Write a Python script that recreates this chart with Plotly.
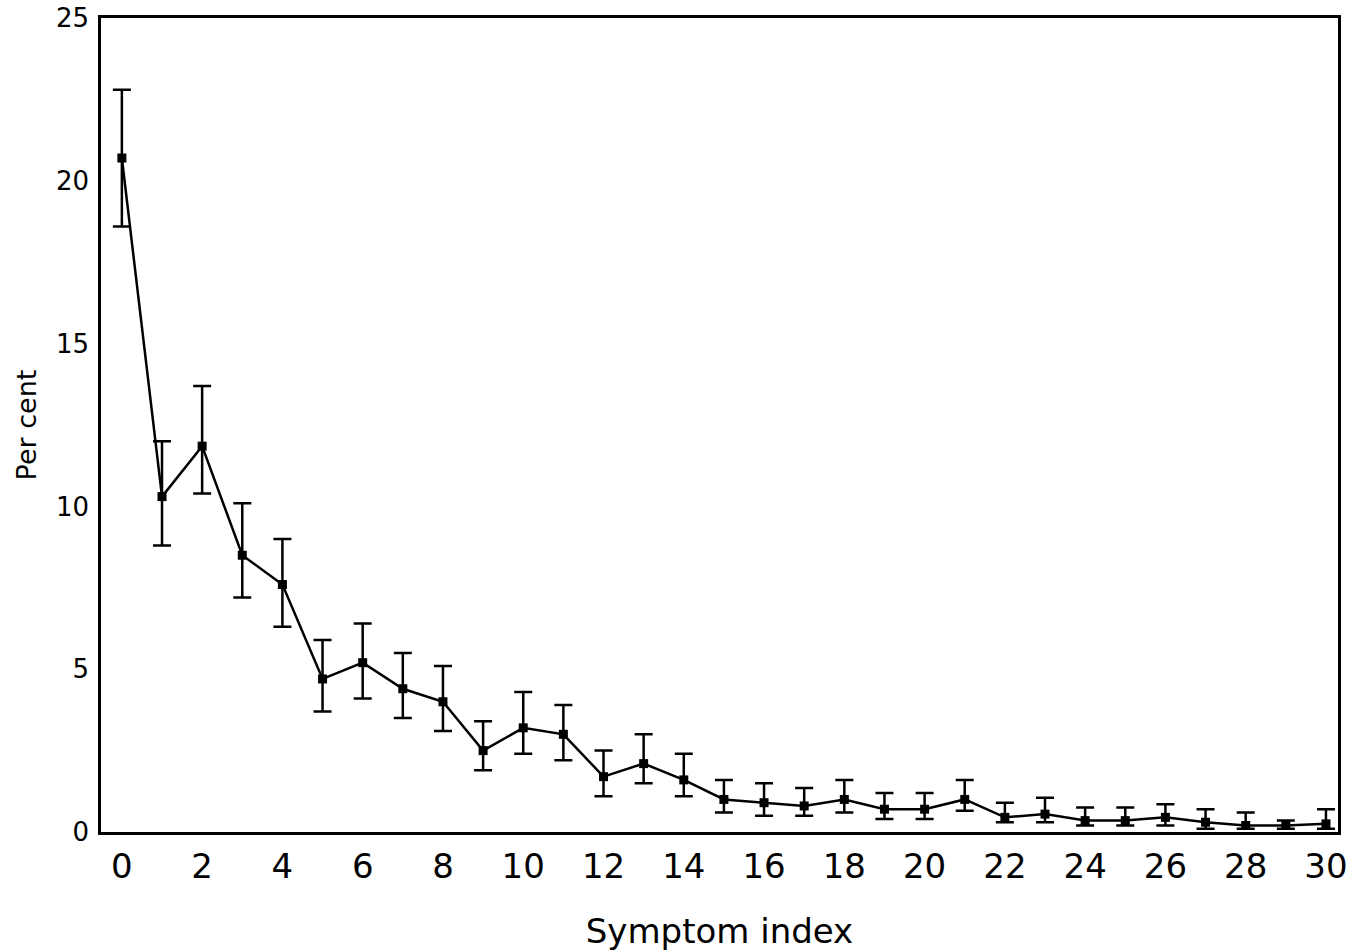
import plotly.graph_objects as go

symptom_index = list(range(31))
per_cent = [20.7, 10.3, 11.85, 8.5, 7.6, 4.7, 5.2, 4.4, 4.0, 2.5, 3.2,
            3.0, 1.7, 2.1, 1.6, 1.0, 0.9, 0.8, 1.0, 0.7, 0.7,
            1.0, 0.45, 0.55, 0.35, 0.35, 0.45, 0.3, 0.2, 0.2, 0.25]
upper = [22.8, 12.0, 13.7, 10.1, 9.0, 5.9, 6.4, 5.5, 5.1, 3.4, 4.3,
         3.9, 2.5, 3.0, 2.4, 1.6, 1.5, 1.35, 1.6, 1.2, 1.2,
         1.6, 0.9, 1.05, 0.75, 0.75, 0.85, 0.7, 0.6, 0.35, 0.7]
lower = [18.6, 8.8, 10.4, 7.2, 6.3, 3.7, 4.1, 3.5, 3.1, 1.9, 2.4,
         2.2, 1.1, 1.5, 1.1, 0.6, 0.5, 0.5, 0.6, 0.4, 0.4,
         0.65, 0.3, 0.3, 0.2, 0.2, 0.2, 0.1, 0.1, 0.1, 0.1]
x_ticks = list(range(0, 31, 2))
y_ticks = [0, 5, 10, 15, 20, 25]

err_plus = [u - v for u, v in zip(upper, per_cent)]
err_minus = [v - l for v, l in zip(per_cent, lower)]

fig = go.Figure(go.Scatter(
    x=symptom_index, y=per_cent, mode="lines+markers",
    line=dict(color="black", width=2.5),
    marker=dict(symbol="square", size=9, color="black"),
    error_y=dict(type="data", symmetric=False, array=err_plus, arrayminus=err_minus,
                 color="black", thickness=2.5, width=9),
    showlegend=False,
))

font = dict(family="DejaVu Sans, Liberation Sans, sans-serif", size=26, color="black")
fig.update_layout(
    width=1352, height=951,
    margin=dict(l=101, r=14, t=18, b=119),
    plot_bgcolor="white", paper_bgcolor="white",
    font=font,
    xaxis=dict(range=[-0.52, 30.3], tickvals=x_ticks, ticks="", showgrid=False,
               zeroline=False, showline=True, linecolor="black", linewidth=2.5, mirror=True,
               ticklabelstandoff=2, tickfont=dict(size=34), automargin=False,
               title=dict(text="Symptom index", font=dict(size=34), standoff=36)),
    yaxis=dict(range=[0, 25], tickvals=y_ticks, ticks="", showgrid=False,
               zeroline=False, showline=True, linecolor="black", linewidth=2.5, mirror=True,
               ticklabelstandoff=4, automargin=False,
               title=dict(text="Per cent", font=dict(size=27), standoff=12)),
)

fig.write_html("out.html")
